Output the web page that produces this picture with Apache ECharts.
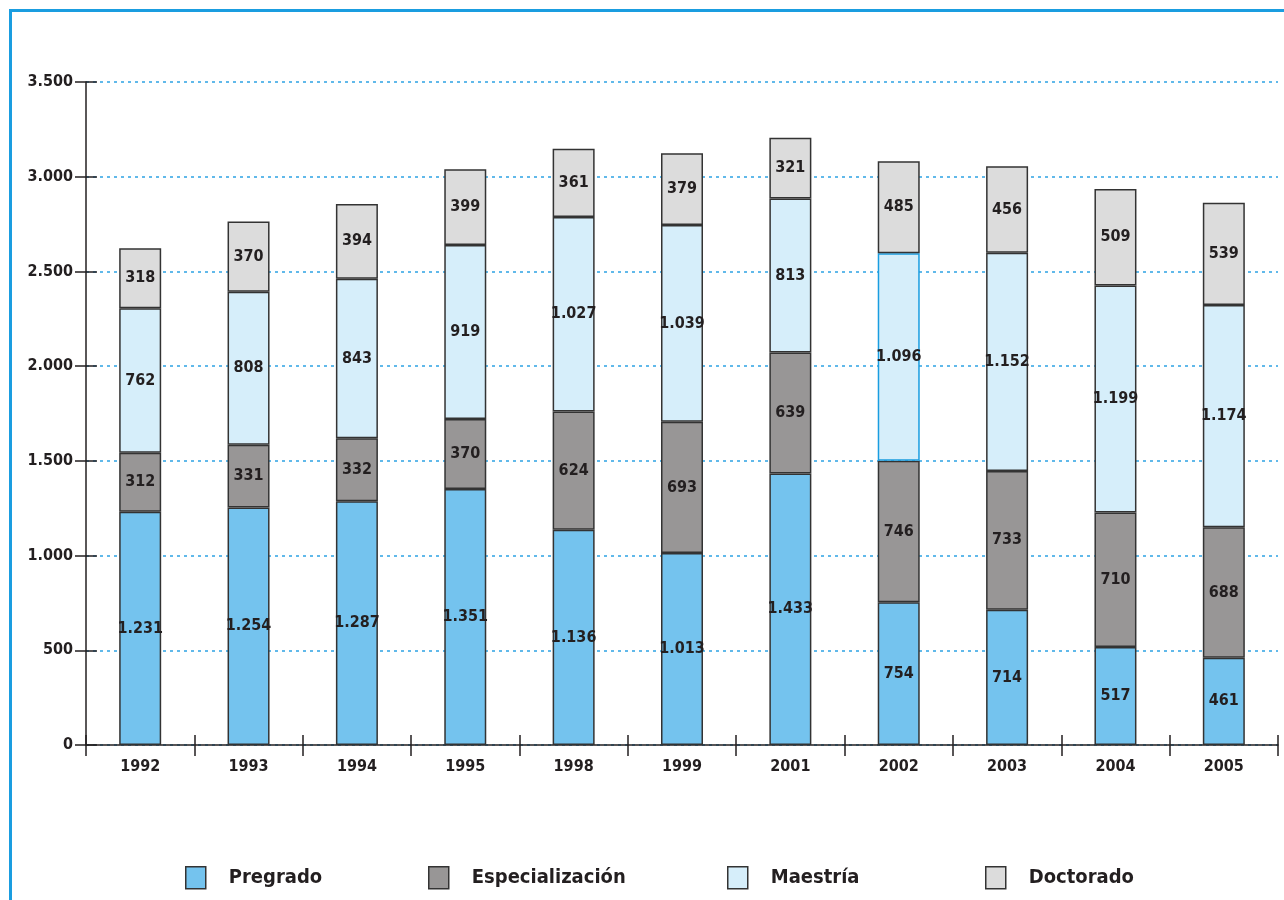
<!DOCTYPE html>
<html><head><meta charset="utf-8">
<script src="https://cdn.jsdelivr.net/npm/echarts@6/dist/echarts.min.js"></script>
<style>html,body{margin:0;padding:0;background:#fff}#c{width:1284px;height:900px}</style>
</head><body><div id="c"></div>
<script>
var years = ['1992','1993','1994','1995','1998','1999','2001','2002','2003','2004','2005'];
var pregrado = [1231,1254,1287,1351,1136,1013,1433,754,714,517,461];
var especializacion = [312,331,332,370,624,693,639,746,733,710,688];
var maestria = [762,808,843,919,1027,1039,813,1096,1152,1199,1174];
var doctorado = [318,370,394,399,361,379,321,485,456,509,539];
var yTicks = [0,500,1000,1500,2000,2500,3000,3500];

var FONT = '"DejaVu Sans Condensed","Liberation Sans Narrow","Arial Narrow","Liberation Sans",Arial,sans-serif';
function fmt(v){ return String(v).replace(/\B(?=(\d{3})+(?!\d))/g,'.'); }

var names = ['Pregrado','Especialización','Maestría','Doctorado'];
var colors = ['#74c3ee','#989696','#d6eefa','#dcdcdc'];
var values = [pregrado, especializacion, maestria, doctorado];

var series = names.map(function(n,i){
  return {
    name:n, type:'bar', stack:'total', barWidth:42,
    data: values[i].map(function(v,j){
      var d = {value:v};
      if (i===2 && years[j]==='2002') d.itemStyle = {borderColor:'#1a9de0'};
      return d;
    }),
    itemStyle:{color:colors[i], borderColor:'#333333', borderWidth:1.5},
    label:{show:true, position:'inside', formatter:function(p){return fmt(p.value);},
      fontFamily:FONT, fontWeight:'bold', fontSize:16, color:'#231f20'},
    emphasis:{disabled:true}
  };
});

var legendX = [185, 428, 727, 985];
var legends = names.map(function(n,i){
  return {
    data:[n], left:legendX[i], top:866, padding:0, icon:'rect', itemWidth:20, itemHeight:22, itemGap:0,
    selectedMode:false,
    itemStyle:{borderColor:'#333333', borderWidth:1.5},
    textStyle:{fontFamily:FONT, fontWeight:'bold', fontSize:20, color:'#231f20', padding:[0,0,0,18]}
  };
});

var chart = echarts.init(document.getElementById('c'));
chart.setOption({
  animation:false,
  backgroundColor:'#fff',
  graphic:[{type:'rect', shape:{x:10.5,y:10.5,width:1400,height:1000},
    style:{fill:'none', stroke:'#1a9de0', lineWidth:3}}],
  legend: legends,
  grid:{left:86, top:82, right:6, bottom:155},
  xAxis:[{
    type:'category', data:years,
    axisLine:{lineStyle:{color:'#231f20', width:1.5}},
    axisTick:{show:true, length:11, lineStyle:{color:'#231f20', width:1.5}},
    axisLabel:{fontFamily:FONT, fontWeight:'bold', fontSize:16, color:'#231f20', margin:14}
  },{
    type:'category', data:years, position:'bottom',
    axisLine:{show:false}, axisLabel:{show:false},
    axisTick:{show:true, inside:true, length:10, lineStyle:{color:'#231f20', width:1.5}}
  }],
  yAxis:[{
    type:'value', min:0, max:3500, interval:500,
    axisLine:{show:true, lineStyle:{color:'#231f20', width:1.5}},
    axisTick:{show:true, length:11, lineStyle:{color:'#231f20', width:1.5}},
    axisLabel:{fontFamily:FONT, fontWeight:'bold', fontSize:16, color:'#231f20', margin:13, formatter:function(v){return fmt(v);}},
    splitLine:{show:true, lineStyle:{color:'#2ea3e3', type:[3,4], width:1.5}}
  },{
    type:'value', min:0, max:3500, interval:500, position:'left',
    axisLine:{show:false}, axisLabel:{show:false}, splitLine:{show:false},
    axisTick:{show:true, inside:true, length:11, lineStyle:{color:'#231f20', width:1.5}}
  }],
  series: series
});
</script></body></html>
